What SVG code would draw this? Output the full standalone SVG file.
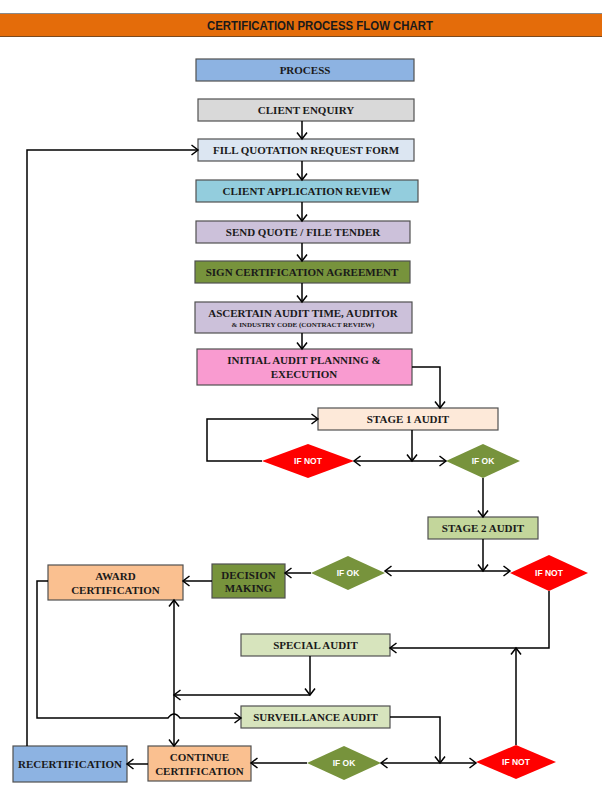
<svg xmlns="http://www.w3.org/2000/svg" width="602" height="796" viewBox="0 0 602 796">
<style>
.b{stroke:#505050;stroke-width:1.2}
.t{font-family:"Liberation Serif","Times New Roman",serif;font-weight:bold;font-size:11px;fill:#1a1a1a;text-anchor:middle;dominant-baseline:central}
.s{font-size:7px}
.d{font-family:"Liberation Sans",Arial,sans-serif;font-weight:bold;font-size:8.5px;fill:#fff;text-anchor:middle;dominant-baseline:central}
.c{fill:none;stroke:#000;stroke-width:1.5}
.a{marker-end:url(#ar)}
.aa{marker-end:url(#ar);marker-start:url(#ars)}
</style>
<defs>
<marker id="ar" markerUnits="userSpaceOnUse" markerWidth="10" markerHeight="12" viewBox="0 0 10 12" refX="8" refY="6" orient="auto">
<path d="M1.5,1 L8,6 L1.5,11" fill="none" stroke="#000" stroke-width="1.5"/>
</marker>
<marker id="ars" markerUnits="userSpaceOnUse" markerWidth="10" markerHeight="12" viewBox="0 0 10 12" refX="8" refY="6" orient="auto-start-reverse">
<path d="M1.5,1 L8,6 L1.5,11" fill="none" stroke="#000" stroke-width="1.5"/>
</marker>
</defs>
<rect width="602" height="796" fill="#fff"/>
<g id="header">
<rect x="0" y="13" width="602" height="24" fill="#E46C0A"/>
<line x1="0" y1="13.5" x2="602" y2="13.5" stroke="#8a8a8a" stroke-width="1"/>
<line x1="0" y1="36.5" x2="602" y2="36.5" stroke="#7a4a20" stroke-width="1"/>
<text x="320" y="26" font-family="Liberation Sans,Arial,sans-serif" font-weight="bold" font-size="12" fill="#1a1a1a" text-anchor="middle" dominant-baseline="central" textLength="226" lengthAdjust="spacingAndGlyphs">CERTIFICATION PROCESS FLOW CHART</text>
</g>
<g id="process"><rect class="b" x="196" y="59" width="218" height="22" fill="#8DB3E2"/><text class="t" x="305" y="70">PROCESS</text></g>
<g id="enquiry"><rect class="b" x="198" y="99" width="216" height="22" fill="#D9D9D9"/><text class="t" x="306" y="110">CLIENT ENQUIRY</text></g>
<g id="fillform"><rect class="b" x="198" y="139" width="216" height="22" fill="#DCE6F2"/><text class="t" x="306" y="150">FILL QUOTATION REQUEST FORM</text></g>
<g id="review"><rect class="b" x="196" y="180" width="222" height="22" fill="#93CDDD"/><text class="t" x="307" y="191">CLIENT APPLICATION REVIEW</text></g>
<g id="quote"><rect class="b" x="196" y="221" width="214" height="22" fill="#CCC1DA"/><text class="t" x="303" y="232">SEND QUOTE / FILE TENDER</text></g>
<g id="sign"><rect class="b" x="195" y="261" width="215" height="22" fill="#77933C"/><text class="t" x="302" y="272">SIGN CERTIFICATION AGREEMENT</text></g>
<g id="ascertain"><rect class="b" x="195" y="302" width="217" height="31" fill="#CCC1DA"/><text class="t" x="303" y="313">ASCERTAIN AUDIT TIME, AUDITOR</text><text class="t s" x="303" y="325">&amp; INDUSTRY CODE (CONTRACT REVIEW)</text></g>
<g id="initial"><rect class="b" x="197" y="349" width="215" height="36" fill="#F99BD0"/><text class="t" x="304" y="360">INITIAL AUDIT PLANNING &amp;</text><text class="t" x="304" y="374">EXECUTION</text></g>
<g id="stage1"><rect class="b" x="318" y="408" width="180" height="22" fill="#FDE9D9"/><text class="t" x="408" y="419">STAGE 1 AUDIT</text></g>
<g id="ifnot1"><polygon points="262,461 308,444 354,461 308,478" fill="#FF0000"/><text class="d" x="308" y="461">IF NOT</text></g>
<g id="ifok1"><polygon points="446,461 483,444 520,461 483,478" fill="#77933C"/><text class="d" x="483" y="461">IF OK</text></g>
<g id="stage2"><rect class="b" x="428" y="517" width="110" height="22" fill="#C3D69B"/><text class="t" x="483" y="528">STAGE 2 AUDIT</text></g>
<g id="ifok2"><polygon points="311,573 348,556 385,573 348,590" fill="#77933C"/><text class="d" x="348" y="573">IF OK</text></g>
<g id="ifnot2"><polygon points="510,573 549,555 588,573 549,591" fill="#FF0000"/><text class="d" x="549" y="573">IF NOT</text></g>
<g id="decision"><rect class="b" x="212" y="564" width="73" height="34" fill="#77933C"/><text class="t" x="248.5" y="575">DECISION</text><text class="t" x="248.5" y="588">MAKING</text></g>
<g id="award"><rect class="b" x="48" y="565" width="135" height="35" fill="#FAC090"/><text class="t" x="115.5" y="576">AWARD</text><text class="t" x="115.5" y="590">CERTIFICATION</text></g>
<g id="special"><rect class="b" x="241" y="634" width="149" height="22" fill="#D7E4BD"/><text class="t" x="315.5" y="645">SPECIAL AUDIT</text></g>
<g id="surveillance"><rect class="b" x="241" y="706" width="149" height="22" fill="#D7E4BD"/><text class="t" x="315.5" y="717">SURVEILLANCE AUDIT</text></g>
<g id="recert"><rect class="b" x="13" y="746" width="114" height="36" fill="#8DB3E2"/><text class="t" x="70" y="764">RECERTIFICATION</text></g>
<g id="continue"><rect class="b" x="148" y="746" width="103" height="35" fill="#FAC090"/><text class="t" x="199.5" y="757">CONTINUE</text><text class="t" x="199.5" y="771">CERTIFICATION</text></g>
<g id="ifok3"><polygon points="307,763 344,746 381,763 344,780" fill="#77933C"/><text class="d" x="344" y="763">IF OK</text></g>
<g id="ifnot3"><polygon points="476,762 516,745 556,762 516,779" fill="#FF0000"/><text class="d" x="516" y="762">IF NOT</text></g>
<g id="connectors">
<path class="c a" d="M302,121 V139"/>
<path class="c a" d="M302,161 V180"/>
<path class="c a" d="M302,202 V221"/>
<path class="c a" d="M302,243 V261"/>
<path class="c a" d="M302,283 V302"/>
<path class="c a" d="M302,333 V349"/>
<path class="c a" d="M412,367 H440 V408"/>
<path class="c a" d="M27,746 V150 H198"/>
<path class="c a" d="M412,430 V461"/>
<path class="c aa" d="M354,461 H446"/>
<path class="c a" d="M262,461 H207 V419 H318"/>
<path class="c a" d="M483,478 V517"/>
<path class="c a" d="M483,539 V571"/>
<path class="c aa" d="M385,571 H510"/>
<path class="c a" d="M311,573 H285"/>
<path class="c a" d="M212,581 H183"/>
<path class="c a" d="M549,591 V648 H390"/>
<path class="c a" d="M310,656 V695"/>
<path class="c a" d="M310,695 H174"/>
<path class="c aa" d="M174,600 V746"/>
<path class="c a" d="M48,581 H37 V718 H168 Q174,710 180,718 H241"/>
<path class="c a" d="M390,717 H440 V763"/>
<path class="c aa" d="M381,763 H476"/>
<path class="c a" d="M307,763 H251"/>
<path class="c a" d="M148,764 H127"/>
<path class="c a" d="M516,745 V648"/>
</g>
</svg>
